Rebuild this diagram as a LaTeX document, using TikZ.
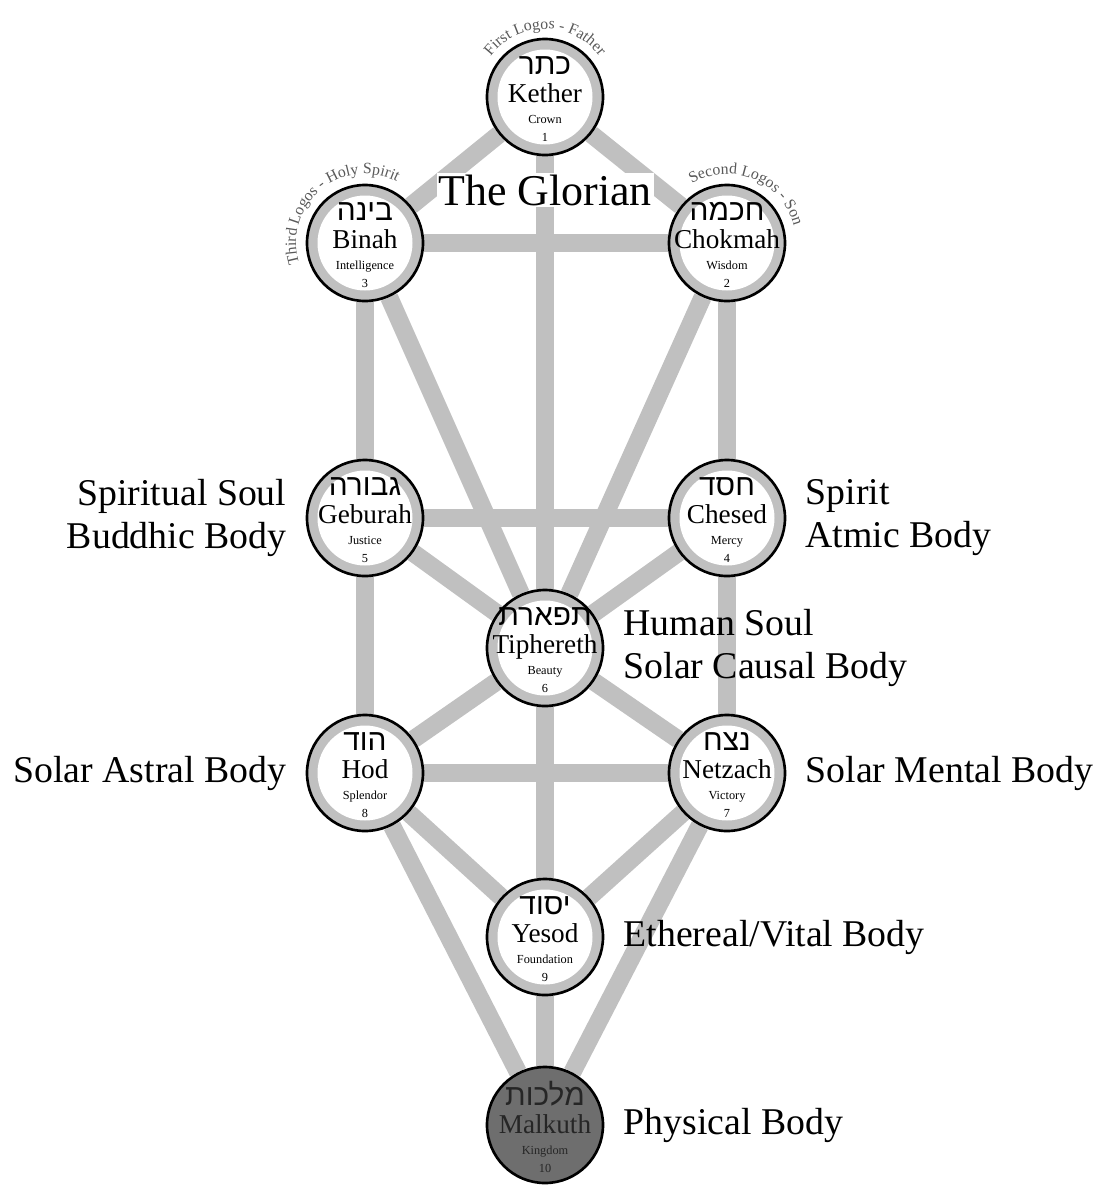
\documentclass[tikz,border=0pt]{standalone}
\usepackage{fontspec}
\setmainfont{Liberation Serif}
\newfontfamily\hebfont[Script=Hebrew]{Liberation Sans}
\TeXXeTstate=1
\usepackage{tikz}
\usetikzlibrary{positioning, backgrounds, decorations.text}

\definecolor{ringgrey}{RGB}{192,192,192}
\definecolor{kinggrey}{RGB}{110,110,110}

\newcommand{\sephtext}[4]{{\hebfont\fontsize{17}{18}\selectfont\beginR #1\endR}\\[4pt]{\fontsize{15.5}{16}\selectfont #2}\\[0pt]{\fontsize{7}{8}\selectfont #3}\\[-2pt]{\fontsize{7}{8}\selectfont #4}}
\newcommand{\arcfont}{\fontsize{9}{10}\selectfont\color{black!65}}

\begin{document}
\begin{tikzpicture}[
        node distance=0.38cm,
        orb/.style={circle, draw=black, line width=1.5pt, minimum size=2.32cm, inner sep=0pt},
        sephira/.style={orb, fill=ringgrey, path picture={\fill[white] (path picture bounding box.center) circle (0.95cm);}},
        kingdom/.style={orb, fill=kinggrey},
        seal/.style={align=center, inner sep=0pt, yshift=-1pt},
        channel/.style={draw=ringgrey, line width=0.36cm},
        body/.style={inner sep=0pt, font=\fontsize{21.5}{24.5}\selectfont},
        arctext/.style={decorate, decoration={text along path, text align=center, text={#1}}}
    ]
    \useasboundingbox (0,0) rectangle (21.96,-23.72);

    % the ten sephiroth
    \node[sephira, label={[seal]center:\sephtext{כתר}{Kether}{Crown}{1}}] (kether) at (10.9,-1.94) {};
    \node[sephira, label={[seal]center:\sephtext{בינה}{Binah}{Intelligence}{3}}] (binah) at (7.3,-4.86) {};
    \node[sephira, label={[seal]center:\sephtext{חכמה}{Chokmah}{Wisdom}{2}}] (chokmah) at (14.54,-4.86) {};
    \node[sephira, label={[seal]center:\sephtext{גבורה}{Geburah}{Justice}{5}}] (geburah) at (7.3,-10.36) {};
    \node[sephira, label={[seal]center:\sephtext{חסד}{Chesed}{Mercy}{4}}] (chesed) at (14.54,-10.36) {};
    \node[sephira, label={[seal]center:\sephtext{תפארת}{Tiphereth}{Beauty}{6}}] (tiphereth) at (10.9,-12.96) {};
    \node[sephira, label={[seal]center:\sephtext{הוד}{Hod}{Splendor}{8}}] (hod) at (7.3,-15.46) {};
    \node[sephira, label={[seal]center:\sephtext{נצח}{Netzach}{Victory}{7}}] (netzach) at (14.54,-15.46) {};
    \node[sephira, label={[seal]center:\sephtext{יסוד}{Yesod}{Foundation}{9}}] (yesod) at (10.9,-18.74) {};
    \node[kingdom, label={[seal, text=black!85]center:\sephtext{מלכות}{Malkuth}{Kingdom}{10}}] (malkuth) at (10.9,-22.5) {};

    % the 22 paths
    \begin{scope}[on background layer]
        \draw[channel] (kether) -- (binah);
        \draw[channel] (kether) -- (chokmah);
        \draw[channel] (kether) -- (tiphereth);
        \draw[channel] (binah) -- (chokmah);
        \draw[channel] (binah) -- (geburah);
        \draw[channel] (binah) -- (tiphereth);
        \draw[channel] (chokmah) -- (chesed);
        \draw[channel] (chokmah) -- (tiphereth);
        \draw[channel] (geburah) -- (chesed);
        \draw[channel] (geburah) -- (tiphereth);
        \draw[channel] (chesed) -- (tiphereth);
        \draw[channel] (geburah) -- (hod);
        \draw[channel] (chesed) -- (netzach);
        \draw[channel] (tiphereth) -- (hod);
        \draw[channel] (tiphereth) -- (netzach);
        \draw[channel] (hod) -- (netzach);
        \draw[channel] (tiphereth) -- (yesod);
        \draw[channel] (hod) -- (yesod);
        \draw[channel] (netzach) -- (yesod);
        \draw[channel] (hod) -- (malkuth);
        \draw[channel] (netzach) -- (malkuth);
        \draw[channel] (yesod) -- (malkuth);
    \end{scope}

    \node[fill=white, inner sep=1pt, font=\fontsize{25}{28}\selectfont] (glorian) at (10.9,-3.8) {The Glorian};

    % logos arcs
    \path[arctext={|\arcfont|First Logos - Father}] ([shift={(150:1.36)}]kether.center) arc[start angle=150, end angle=30, radius=1.36];
    \path[arctext={|\arcfont|Third Logos - Holy Spirit}] ([shift={(205:1.38)}]binah.center) arc[start angle=205, end angle=55, radius=1.38];
    \path[arctext={|\arcfont|Second Logos - Son}] ([shift={(130:1.38)}]chokmah.center) arc[start angle=130, end angle=5, radius=1.38];

    % bodies
    \node[body, align=right, left=of geburah] (buddhic) {Spiritual Soul\\Buddhic Body};
    \node[body, align=left, right=of chesed] (atmic) {Spirit\\Atmic Body};
    \node[body, align=left, right=of tiphereth] (causal) {Human Soul\\Solar Causal Body};
    \node[body, left=of hod] (astral) {Solar Astral Body};
    \node[body, right=of netzach] (mental) {Solar Mental Body};
    \node[body, right=of yesod] (vital) {Ethereal/Vital Body};
    \node[body, right=of malkuth] (physical) {Physical Body};
\end{tikzpicture}
\end{document}
